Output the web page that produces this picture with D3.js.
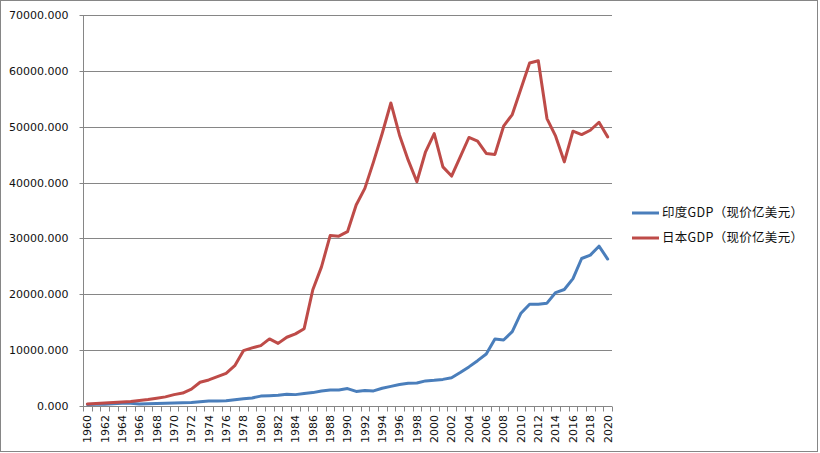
<!DOCTYPE html>
<html><head><meta charset="utf-8">
<script src="https://cdn.jsdelivr.net/npm/d3@7"></script>
<style>
html,body{margin:0;padding:0;background:#fff;}
svg{display:block;}
</style></head>
<body>
<svg id="c" width="820" height="453"></svg>
<script>
const years = d3.range(1960, 2021).map(String);
const yTicks = [0, 10000, 20000, 30000, 40000, 50000, 60000, 70000];
const seriesNames = ["印度GDP（现价亿美元）", "日本GDP（现价亿美元）"];
const indiaGDP = [370, 393, 422, 486, 565, 596, 459, 501, 531, 582,
  624, 671, 709, 850, 991, 987, 1029, 1215, 1373, 1530,
  1863, 1939, 2009, 2183, 2126, 2325, 2487, 2792, 2970, 2960,
  3210, 2705, 2882, 2793, 3273, 3603, 3929, 4155, 4214, 4587,
  4684, 4854, 5149, 6077, 7092, 8204, 9403, 12100, 11900, 13400,
  16700, 18300, 18300, 18500, 20400, 20950, 22900, 26500, 27100, 28700, 26400];
const japanGDP = [443, 535, 610, 699, 818, 911, 1058, 1236, 1466, 1720,
  2126, 2403, 3100, 4340, 4750, 5340, 5940, 7300, 10000, 10500,
  10900, 12100, 11300, 12400, 13000, 13930, 20900, 25000, 30600, 30500,
  31300, 36070, 39050, 43800, 48870, 54340, 48570, 44100, 40230, 45600,
  48870, 42900, 41250, 44700, 48160, 47500, 45300, 45130, 50180, 52270,
  56900, 61500, 61900, 51550, 48390, 43800, 49290, 48690, 49460, 50890, 48270];
const colors = ["#4A7EBB", "#BE4B48"];

const svg = d3.select("#c");
const gray = "#868686";

// outer border
svg.append("rect").attr("x", 0.5).attr("y", 0.5).attr("width", 817).attr("height", 451)
  .attr("fill", "#fff").attr("stroke", gray).attr("stroke-width", 1);

const x = d3.scaleBand().domain(years).range([83, 612]).paddingInner(0).paddingOuter(0);
const y = d3.scaleLinear().domain([0, 70000]).range([406.5, 15.5]);
const ry = v => Math.round(y(v) - 0.5) + 0.5;

// gridlines
svg.append("g").selectAll("line").data(yTicks.filter(d => d > 0)).join("line")
  .attr("x1", 83).attr("x2", 612).attr("y1", ry).attr("y2", ry)
  .attr("stroke", gray).attr("stroke-width", 1);

// y axis
const yAxis = d3.axisLeft(y).tickValues(yTicks).tickSize(4).tickPadding(11)
  .tickFormat(d3.format(".3f"));
const gy = svg.append("g").attr("transform", "translate(83.5,0)").call(yAxis);
gy.select(".domain").attr("stroke", gray).attr("d", "M0,15.5V406.5");
gy.selectAll(".tick line").attr("stroke", gray);
gy.selectAll(".tick").attr("transform", d => `translate(0,${ry(d)})`);
gy.selectAll(".tick text").attr("font-family", "DejaVu Sans").attr("font-size", 11).attr("fill", "#111");

// x axis
const xAxis = d3.axisBottom(x).tickSize(0).tickFormat((d, i) => i % 2 === 0 ? d : "");
const gx = svg.append("g").attr("transform", "translate(0,406.5)").call(xAxis);
gx.select(".domain").attr("stroke", gray).attr("d", "M83,0H612");
gx.selectAll(".tick text")
  .attr("font-family", "DejaVu Sans").attr("font-size", 11).attr("fill", "#111")
  .attr("transform", "rotate(-90)").attr("text-anchor", "end")
  .attr("x", -8.5).attr("y", 0).attr("dy", "0.35em");
// category boundary tick marks
const bounds = years.map(d => x(d)).concat([x(years[years.length - 1]) + x.bandwidth()]);
gx.append("g").selectAll("line").data(bounds).join("line")
  .attr("x1", d => Math.round(d) + 0.5).attr("x2", d => Math.round(d) + 0.5)
  .attr("y1", 0).attr("y2", 5).attr("stroke", gray);

// lines
const line = d3.line().x((d, i) => x(years[i]) + x.bandwidth() / 2).y(d => y(d));
[indiaGDP, japanGDP].forEach((s, k) => {
  svg.append("path").datum(s).attr("d", line).attr("fill", "none")
    .attr("stroke", colors[k]).attr("stroke-width", 3).attr("stroke-linejoin", "round")
    .attr("stroke-linecap", "round");
});

// legend
const lg = svg.append("g");
seriesNames.forEach((n, k) => {
  const yy = 213 + k * 25;
  lg.append("line").attr("x1", 632).attr("x2", 659).attr("y1", yy).attr("y2", yy)
    .attr("stroke", colors[k]).attr("stroke-width", 3);
  lg.append("text").attr("x", 662).attr("y", yy).attr("dy", "0.35em")
    .attr("font-family", "Noto Sans CJK SC").attr("font-size", 12.5)
    .attr("letter-spacing", 0.3).attr("fill", "#111").text(n);
});
</script>
</body></html>
